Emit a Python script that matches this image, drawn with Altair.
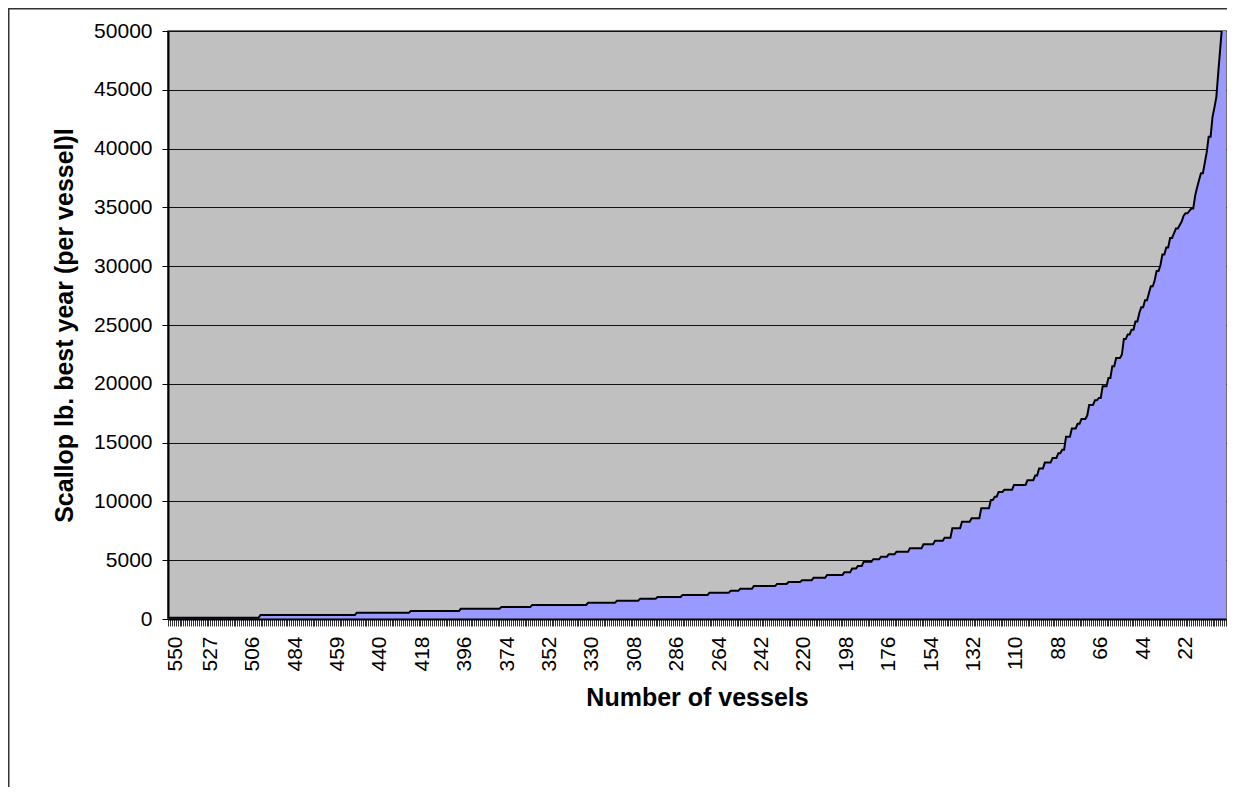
import json
import altair as alt
import pandas as pd

# ---- data ----
n_vessels = 550
x_tick_labels = ["550", "527", "506", "484", "459", "440", "418", "396", "374", "352",
                 "330", "308", "286", "264", "242", "220", "198", "176", "154", "132",
                 "110", "88", "66", "44", "22"]
y_ticks = [0, 5000, 10000, 15000, 20000, 25000, 30000, 35000, 40000, 45000, 50000]

# sorted catch per vessel, as runs: first position of each run and its value
run_start = [0, 48, 98, 126, 152, 173, 189, 218, 233, 245, 254, 267, 281, 292, 297,
             304, 316, 322, 329, 335, 342, 351, 355, 358, 361, 366, 370, 374, 378,
             385, 392, 398, 403, 407, 412, 417, 422, 427, 429, 431, 434, 439, 446,
             450, 452, 455, 459, 462, 464, 466, 469, 472, 474, 477, 478, 481, 483,
             485, 488, 490, 492, 495, 496, 498, 500, 502, 504, 505, 507, 509, 510,
             512, 513, 515, 516, 518, 520, 522, 523, 525, 526, 527, 528, 530, 531,
             533, 534, 535, 536, 538, 539, 540, 542, 543, 544, 545, 546, 547, 548, 549]
run_value = [100, 340, 540, 680, 880, 1020, 1200, 1390, 1560, 1730, 1870, 2050, 2240,
             2410, 2580, 2800, 2980, 3150, 3300, 3500, 3750, 3980, 4300, 4500, 4870,
             5080, 5300, 5500, 5720, 6010, 6350, 6660, 6910, 7710, 8270, 8560, 9410,
             10120, 10400, 10800, 11000, 11400, 11800, 12200, 12800, 13300, 13700,
             14100, 14400, 15500, 16200, 16600, 17000, 17300, 18200, 18600, 18800,
             19800, 20500, 21500, 22200, 22500, 23800, 24200, 24600, 25300, 26000,
             26500, 27100, 27700, 28300, 28800, 29600, 30100, 31000, 31600, 32400,
             32800, 33200, 33500, 33800, 34300, 34500, 34700, 34900, 36000, 36700,
             37300, 37900, 38800, 39700, 41000, 42700, 43500, 44400, 46500, 48500,
             50500, 52000, 54000]

rows = []
for k, (s, v) in enumerate(zip(run_start, run_value)):
    e = run_start[k + 1] if k + 1 < len(run_start) else n_vessels
    for i in range(s, e):
        rows.append({"pos": i, "lbs": v})
df = pd.DataFrame(rows)

FONT = "Liberation Sans, Arial, sans-serif"
label_expr = ("(datum.value %% 22 == 0 && datum.value / 22 < %d) ? %s[datum.value / 22] : ''"
              % (len(x_tick_labels), json.dumps(x_tick_labels)))

PLOT_W = 1058
PLOT_H = 588
PAD_L, PAD_T, PAD_R, PAD_B = 160, 23, 1, 168

x_enc = alt.X(
    "pos:Q",
    scale=alt.Scale(domain=[0, n_vessels - 1], nice=False, zero=False),
    axis=alt.Axis(
        values=list(range(n_vessels)),
        tickCount=1000,
        labelExpr=label_expr,
        labelAngle=270,
        labelFontSize=21,
        labelFont=FONT,
        labelColor="black",
        labelPadding=10,
        labelOffset={"condition": {"test": "datum.value == 0", "value": 7}, "value": 0},
        labelOverlap=False,
        labelFlush=False,
        labelBound=False,
        tickSize=7,
        tickColor="#333333",
        tickWidth=1,
        domainColor="black",
        domainWidth=2,
        grid=False,
        title="Number of vessels",
        titleFont=FONT,
        titleFontSize=25,
        titleFontWeight="bold",
        titleColor="black",
        titlePadding=14,
        zindex=1,
    ),
)
y_enc = alt.Y(
    "lbs:Q",
    scale=alt.Scale(domain=[0, 50000], nice=False),
    axis=alt.Axis(
        values=y_ticks,
        format="d",
        labelFontSize=21,
        labelFont=FONT,
        labelColor="black",
        labelPadding=10,
        tickSize=6,
        tickColor="black",
        domainColor="black",
        domainWidth=2,
        grid=True,
        gridColor="#111111",
        gridWidth=1,
        title="Scallop lb. best year (per vessel)l",
        titleFont=FONT,
        titleFontSize=25,
        titleFontWeight="bold",
        titleColor="black",
        titlePadding=16,
    ),
)

base = alt.Chart(df)
area = base.mark_area(color="#9999FF", opacity=1, clip=True).encode(x=x_enc, y=y_enc)
line = base.mark_line(color="black", strokeWidth=2, clip=True).encode(x="pos:Q", y="lbs:Q")

one = alt.Data(values=[{"a": 1}])
border_left = alt.Chart(one).mark_rule(color="#333333", strokeWidth=1.5).encode(
    x=alt.value(-PAD_L + 0.75), y=alt.value(-PAD_T), y2=alt.value(PLOT_H + PAD_B))
border_top = alt.Chart(one).mark_rule(color="#333333", strokeWidth=1.5).encode(
    x=alt.value(-PAD_L), x2=alt.value(PLOT_W + PAD_R), y=alt.value(-PAD_T + 0.75))

chart = alt.layer(area, line, border_left, border_top).properties(
    width=PLOT_W, height=PLOT_H, background="white",
    autosize=alt.AutoSizeParams(type="none"),
    padding={"left": PAD_L, "top": PAD_T, "right": PAD_R, "bottom": PAD_B},
).configure_view(
    fill="#C0C0C0", stroke="#444444", strokeWidth=1.5
)

chart.save("out.html", embed_options={"renderer": "svg", "actions": False})
